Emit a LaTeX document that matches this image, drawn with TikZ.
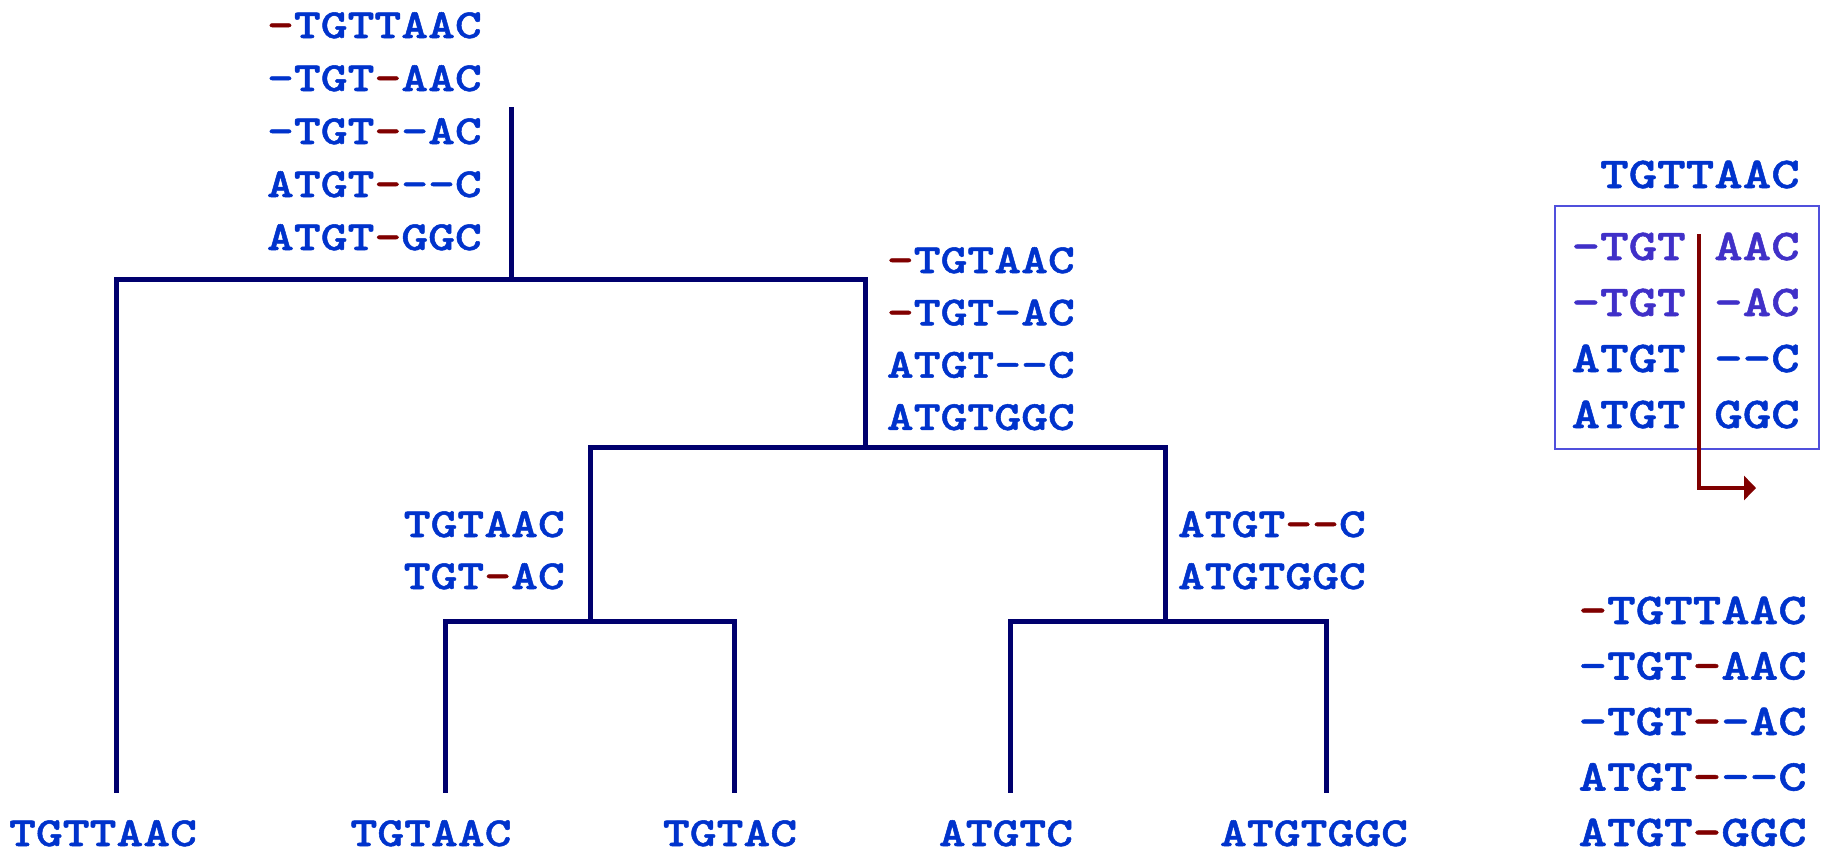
\documentclass[tikz,border=0pt]{standalone}
\usepackage{fontspec}
\usetikzlibrary{arrows.meta}
\newfontfamily\seqfont{lmmonolt10-bold.otf}[FakeStretch=1.235,FakeBold=1.2,Ligatures=TeXOff]
\definecolor{seqblue}{RGB}{0,51,204}
\definecolor{gapred}{RGB}{128,0,0}
\definecolor{treeblue}{RGB}{0,0,110}
\definecolor{framecol}{RGB}{80,80,220}
\definecolor{cutblue}{RGB}{64,48,200}
\newcommand\gp[1]{\textcolor{gapred}{#1}}

\begin{document}
\begin{tikzpicture}[x=1pt,y=-1pt,
	seq/.style={text=seqblue,font=\seqfont\fontsize{41.4}{50}\selectfont,inner sep=0pt,anchor=base east},
	bigseq/.style={seq,font=\seqfont\fontsize{44}{53}\selectfont},
	branch/.style={treeblue,line width=5pt}]
	\useasboundingbox (0,0) rectangle (1821,854);
	\coordinate (rootTop) at (511,107);
	\coordinate (root) at (511,279);
	\coordinate (nA) at (865,447);
	\coordinate (nB) at (590,621);
	\coordinate (nC) at (1165,621);
	\coordinate (l1) at (116,793);
	\coordinate (l2) at (445,793);
	\coordinate (l3) at (734,793);
	\coordinate (l4) at (1010,793);
	\coordinate (l5) at (1326,793);
	\draw[branch] (rootTop) -- (root);
	\draw[branch] (root) -| (l1);
	\draw[branch] (root) -| (nA);
	\draw[branch] (nA) -| (nB);
	\draw[branch] (nA) -| (nC);
	\draw[branch] (nB) -| (l2);
	\draw[branch] (nB) -| (l3);
	\draw[branch] (nC) -| (l4);
	\draw[branch] (nC) -| (l5);
	\foreach \i/\s in {1/{\gp{-}TGTTAAC},2/{-TGT\gp{-}AAC},3/{-TGT\gp{-}-AC},4/{ATGT\gp{-}--C},5/{ATGT\gp{-}GGC}}
		\node[seq] (ra\i) at (482,{38+53*(\i-1)}) {\s};
	\foreach \i/\s in {1/{\gp{-}TGTAAC},2/{\gp{-}TGT-AC},3/{ATGT--C},4/{ATGTGGC}}
		\node[seq] (aa\i) at (1075,{273+52.3*(\i-1)}) {\s};
	\node[seq] (ba1) at (565,537) {TGTAAC};
	\node[seq] (ba2) at (565,589) {TGT\gp{-}AC};
	\node[seq] (ca1) at (1366,537) {ATGT\gp{--}C};
	\node[seq] (ca2) at (1366,589) {ATGTGGC};
	\node[seq,anchor=base] (leaf1) at (103,846) {TGTTAAC};
	\node[seq,anchor=base] (leaf2) at (431,846) {TGTAAC};
	\node[seq,anchor=base] (leaf3) at (730,846) {TGTAC};
	\node[seq,anchor=base] (leaf4) at (1006,846) {ATGTC};
	\node[seq,anchor=base] (leaf5) at (1314,846) {ATGTGGC};
	\node[bigseq] (ins) at (1800,188) {TGTTAAC};
	\draw[framecol,line width=2pt] (1555,206) rectangle (1819,449);
	\foreach \i/\s in {1/{-TGT AAC},2/{-TGT -AC}}
		\node[bigseq,text=cutblue] (cut\i) at (1800,{260+56*(\i-1)}) {\s};
	\foreach \i/\s in {3/{ATGT --C},4/{ATGT GGC}}
		\node[bigseq] (cut\i) at (1800,{260+56*(\i-1)}) {\s};
	\coordinate (cutTop) at (1699,234);
	\coordinate (cutEnd) at (1756,488);
	\draw[gapred,line width=4pt,-{Triangle[length=12pt,width=24pt]}] (cutTop) |- (cutEnd);
	\foreach \i/\s in {1/{\gp{-}TGTTAAC},2/{-TGT\gp{-}AAC},3/{-TGT\gp{-}-AC},4/{ATGT\gp{-}--C},5/{ATGT\gp{-}GGC}}
		\node[bigseq] (res\i) at (1807,{624+55.5*(\i-1)}) {\s};
\end{tikzpicture}
\end{document}
